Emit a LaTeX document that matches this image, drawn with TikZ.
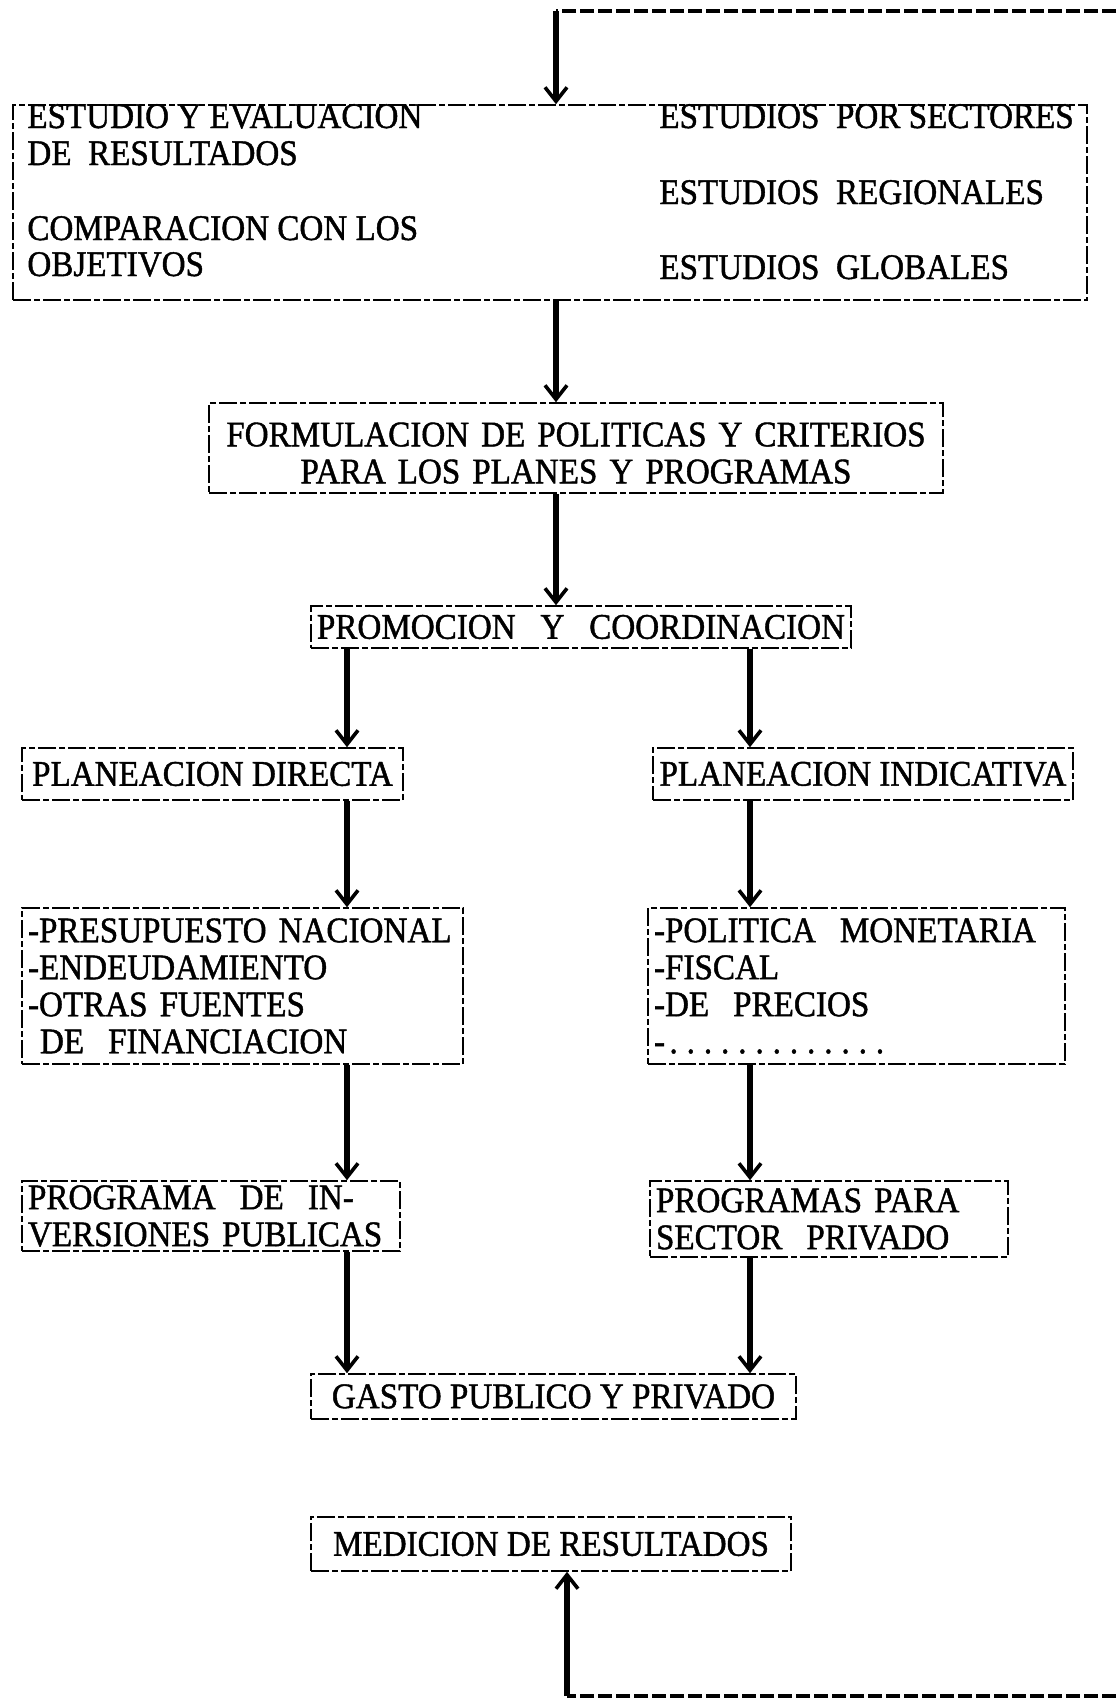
\documentclass[tikz,border=0pt]{standalone}
\usepackage{fontspec}
\setmainfont[FakeStretch=0.92,FakeBold=1.2]{Liberation Serif}
\usetikzlibrary{arrows.meta}
\newcommand{\letra}{\fontsize{18}{18.5}\selectfont}
\tikzset{
  caja/.style={draw, line width=0.8pt, dash pattern=on 9pt off 1.5pt on 3pt off 1.5pt,
    inner xsep=3pt, inner ysep=2pt, font=\letra, align=left},
  texto/.style={inner sep=0pt, font=\letra, anchor=base west},
  flecha/.style={line width=2.8pt, -{Straight Barb[length=7pt,width=11pt,line width=1.8pt]}},
  lazo/.style={line width=2.2pt, dash pattern=on 7pt off 2pt}
}
\begin{document}
\begin{tikzpicture}[x=0.5pt,y=-0.5pt]
  \useasboundingbox (0,0) rectangle (1116,1699);
  % caja de estudios
  \node[caja, minimum width=537pt, minimum height=97.5pt] (estudio) at (550,202.5) {};
  \node[texto] (evalua)  at (27,128) {ESTUDIO Y EVALUACION};
  \node[texto] (result)  at (27,165) {DE \ RESULTADOS};
  \node[texto] (compara) at (27,240) {COMPARACION CON LOS};
  \node[texto] (objet)   at (27,276) {OBJETIVOS};
  \node[texto] (sector)  at (659,128) {ESTUDIOS \ POR SECTORES};
  \node[texto] (region)  at (659,204) {ESTUDIOS \ REGIONALES};
  \node[texto] (global)  at (659,279) {ESTUDIOS \ GLOBALES};
  % cajas del centro
  \node[caja, text width=361pt, minimum height=45pt, align=center] (formul) at (576,448)
    {\rule{0pt}{17pt}FORMULACION DE POLITICAS Y CRITERIOS\\PARA LOS PLANES Y PROGRAMAS};
  \node[caja, minimum width=270pt, minimum height=21pt] (promo) at (581,627)
    {PROMOCION \ \ Y \ \ COORDINACION};
  % rama izquierda
  \node[caja, minimum width=190.5pt, minimum height=26pt] (pdirecta) at (212.5,774)
    {PLANEACION DIRECTA};
  \node[caja, text width=214.5pt, minimum height=78pt] (presu) at (242.5,986)
    {-PRESUPUESTO NACIONAL\\-ENDEUDAMIENTO\\-OTRAS FUENTES\\\ DE \ FINANCIACION};
  \node[caja, text width=183pt, minimum height=35pt] (inversion) at (211,1216)
    {PROGRAMA \ DE \ IN-\\VERSIONES PUBLICAS};
  % rama derecha
  \node[caja, minimum width=210pt, minimum height=26pt] (pindica) at (863,774)
    {PLANEACION INDICATIVA};
  \node[caja, text width=202.5pt, minimum height=78pt] (politica) at (856.5,986)
    {-POLITICA \ MONETARIA\\-FISCAL\\-DE \ PRECIOS\\-\hbox to 112pt{\leaders\hbox to 8.6pt{\hss.\hss}\hfill}};
  \node[caja, text width=173pt, minimum height=38pt] (privado) at (829,1219)
    {PROGRAMAS PARA\\SECTOR \ PRIVADO};
  % cajas de abajo
  \node[caja, minimum width=242.5pt, minimum height=22.5pt] (gasto) at (553.5,1396.5)
    {GASTO PUBLICO Y PRIVADO};
  \node[caja, minimum width=240pt, minimum height=27pt] (medicion) at (551,1544)
    {MEDICION DE RESULTADOS};
  % ejes de las flechas
  \coordinate (esquina) at (556,11);
  \coordinate (borde) at (1116,11);
  \coordinate (izq) at (347,0);
  \coordinate (der) at (750,0);
  \coordinate (abajo) at (567,1696);
  \coordinate (borde2) at (1116,1696);
  \draw[lazo] (borde) -- (esquina);
  \draw[flecha] (esquina) -- (estudio.north -| esquina);
  \draw[flecha] (estudio.south -| esquina) -- (formul.north -| esquina);
  \draw[flecha] (formul.south -| esquina) -- (promo.north -| esquina);
  \draw[flecha] (promo.south -| izq) -- (pdirecta.north -| izq);
  \draw[flecha] (pdirecta.south -| izq) -- (presu.north -| izq);
  \draw[flecha] (presu.south -| izq) -- (inversion.north -| izq);
  \draw[flecha] (inversion.south -| izq) -- (gasto.north -| izq);
  \draw[flecha] (promo.south -| der) -- (pindica.north -| der);
  \draw[flecha] (pindica.south -| der) -- (politica.north -| der);
  \draw[flecha] (politica.south -| der) -- (privado.north -| der);
  \draw[flecha] (privado.south -| der) -- (gasto.north -| der);
  \draw[lazo] (borde2) -- (abajo);
  \draw[flecha] (abajo) -- (medicion.south -| abajo);
\end{tikzpicture}
\end{document}
